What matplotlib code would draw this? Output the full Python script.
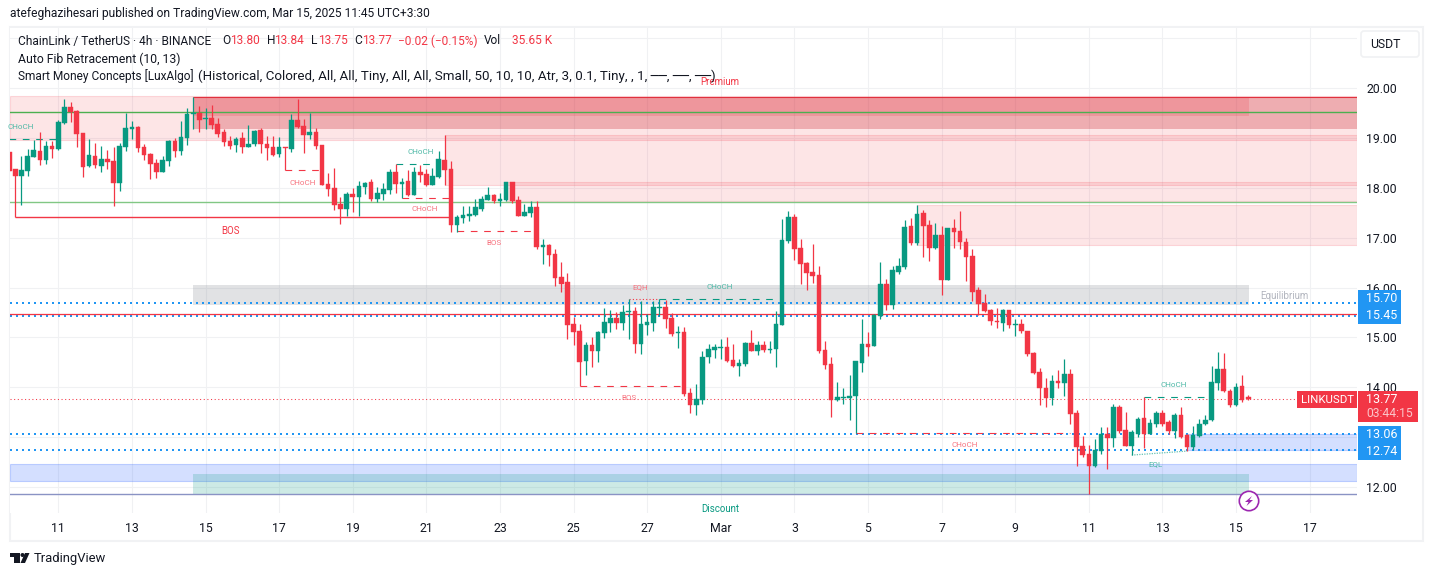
import numpy as np
import matplotlib
matplotlib.use("Agg")
import matplotlib.pyplot as plt
from matplotlib.patches import Rectangle, Circle, Polygon, FancyBboxPatch
from matplotlib.transforms import Affine2D
from matplotlib.colors import to_rgba

plt.rcParams["font.family"] = ["Roboto", "DejaVu Sans"]

# 4h candles, bar 0 is Feb 11 00:00
first_bar = -8
opens = [18.73,18.38,18.24,18.34,18.62,18.74,18.56,18.84,
    18.78,19.30,19.62,19.55,19.10,18.44,18.64,18.44,18.58,18.54,
    18.10,18.82,19.18,19.22,18.82,18.68,18.50,18.32,18.54,18.94,
    18.74,19.00,19.48,19.50,19.38,19.40,19.28,19.12,18.94,18.86,
    19.00,18.82,18.88,19.16,18.88,18.82,18.68,18.82,18.78,19.36,
    19.24,19.06,19.12,18.86,18.08,18.00,17.68,17.58,17.88,17.82,
    18.02,18.12,17.78,17.88,17.96,18.32,18.08,18.14,17.86,18.32,
    18.28,18.06,18.22,18.56,18.38,17.26,17.40,17.44,17.46,17.58,
    17.76,17.86,17.74,17.76,18.12,17.76,17.44,17.50,17.62,16.81,
    16.85,16.67,16.21,16.11,15.27,15.13,14.53,14.85,14.73,15.09,
    15.29,15.39,15.29,15.51,15.53,14.87,15.25,15.29,15.60,15.61,
    15.39,15.09,15.11,13.89,13.65,13.75,14.61,14.75,14.79,14.81,
    14.55,14.43,14.47,14.89,14.73,14.85,14.75,14.77,15.25,16.93,
    17.42,16.79,16.49,16.31,16.25,14.75,14.47,13.75,13.79,13.78,
    13.82,14.49,14.87,14.83,15.43,16.07,15.65,16.31,16.41,17.24,
    16.89,17.50,17.26,16.79,17.06,16.15,17.20,17.14,16.91,16.63,
    15.95,15.69,15.55,15.33,15.29,15.55,15.25,15.27,15.13,14.69,
    14.31,13.99,13.78,14.13,14.09,14.27,13.48,12.82,12.66,12.42,
    12.72,13.06,12.98,13.60,13.14,12.82,13.06,13.38,13.06,13.26,
    13.48,13.30,13.12,13.44,13.04,12.80,13.02,13.26,13.34,14.09,
    14.37,13.93,13.65,14.03,13.80]
highs = [18.73,18.38,18.64,18.79,18.97,19.13,18.94,18.94,
    19.36,19.78,19.72,19.56,19.10,18.98,18.90,18.84,18.76,18.82,
    18.90,19.50,19.34,19.24,18.88,18.70,18.58,18.64,18.96,19.00,
    19.34,19.60,19.82,19.64,19.60,19.66,19.40,19.18,19.04,19.02,
    19.12,19.26,19.16,19.20,19.04,19.04,19.02,18.82,19.48,19.78,
    19.38,19.50,19.20,18.86,18.30,18.40,17.82,17.92,18.00,18.14,
    18.12,18.18,18.02,18.10,18.38,18.48,18.20,18.36,18.42,18.46,
    18.38,18.40,18.74,19.06,18.54,17.46,17.64,17.64,17.78,17.84,
    18.02,17.88,17.90,18.12,18.12,17.84,17.68,17.74,17.74,16.98,
    16.87,16.77,16.51,16.29,15.41,15.27,14.91,15.01,15.13,15.59,
    15.55,15.51,15.65,15.77,15.61,15.73,15.47,15.73,15.77,15.75,
    15.49,15.23,15.21,13.99,14.07,14.73,14.87,14.87,14.97,15.01,
    14.87,14.57,14.91,15.15,14.93,14.93,14.93,15.53,17.38,17.54,
    17.48,16.97,16.51,16.87,16.43,14.93,14.61,14.11,13.99,14.25,
    14.53,15.37,15.11,15.47,16.51,16.17,16.43,16.59,17.36,17.40,
    17.66,17.56,17.36,17.30,17.24,17.20,17.38,17.54,16.99,16.77,
    16.01,15.87,15.57,15.59,15.57,15.55,15.37,15.37,15.13,14.71,
    14.39,14.19,14.25,14.35,14.57,14.37,13.54,13.02,12.84,12.96,
    13.20,13.20,13.67,13.65,13.50,13.14,13.40,13.80,13.36,13.52,
    13.54,13.34,13.48,13.60,13.06,13.22,13.36,13.44,14.43,14.71,
    14.69,13.97,14.09,14.25,13.84]
lows = [18.34,17.42,17.66,18.24,18.62,18.46,18.48,18.59,
    18.77,19.28,19.32,18.82,18.22,18.42,18.40,18.32,18.38,17.64,
    17.94,18.74,18.98,18.72,18.56,18.18,18.20,18.32,18.44,18.62,
    18.66,18.86,19.18,19.12,19.18,19.18,19.02,18.84,18.78,18.72,
    18.70,18.82,18.84,18.70,18.56,18.64,18.62,18.36,18.72,19.20,
    18.70,18.98,18.78,18.06,17.84,17.56,17.28,17.44,17.52,17.44,
    17.88,17.74,17.72,17.76,17.88,17.90,17.79,17.84,17.86,18.12,
    18.04,18.06,18.20,18.06,17.12,17.12,17.30,17.34,17.44,17.54,
    17.76,17.70,17.64,17.74,17.70,17.44,17.44,17.42,16.77,16.47,
    16.43,16.03,15.91,14.97,14.85,14.02,14.25,14.41,14.51,14.99,
    15.11,15.17,15.15,14.97,14.69,14.67,15.05,15.13,15.43,15.19,
    15.03,14.79,13.83,13.48,13.44,13.66,14.49,14.59,14.57,14.51,
    14.41,14.23,14.43,14.73,14.65,14.71,14.69,14.41,15.25,16.89,
    16.55,16.07,15.95,16.09,14.69,14.37,13.40,13.73,13.66,13.34,
    13.08,14.31,14.63,14.83,15.37,15.55,15.57,16.27,16.37,16.85,
    16.85,16.61,16.53,16.77,15.85,16.15,16.79,16.77,16.13,15.73,
    15.45,15.51,15.25,15.19,15.13,15.19,15.03,15.09,14.63,14.27,
    13.65,13.61,13.65,13.99,13.83,13.26,12.42,12.60,11.86,12.40,
    12.66,12.36,12.80,13.08,12.82,12.64,13.00,12.78,13.06,13.20,
    13.22,13.06,12.98,12.98,12.72,12.74,13.00,13.24,13.32,13.95,
    13.91,13.60,13.63,13.71,13.75]
closes = [18.34,18.24,18.36,18.64,18.76,18.56,18.84,18.78,
    19.32,19.62,19.52,19.08,18.42,18.66,18.46,18.58,18.52,18.10,
    18.84,19.20,19.22,18.80,18.66,18.48,18.32,18.56,18.94,18.74,
    19.02,19.48,19.50,19.36,19.40,19.26,19.08,18.92,18.84,18.98,
    18.82,18.88,19.14,18.88,18.80,18.66,18.82,18.80,19.36,19.22,
    19.06,19.12,18.84,18.06,17.98,17.66,17.58,17.88,17.82,18.04,
    18.10,17.78,17.90,17.98,18.32,18.08,18.12,17.86,18.32,18.26,
    18.06,18.24,18.58,18.36,17.26,17.42,17.46,17.48,17.62,17.78,
    17.86,17.74,17.78,18.12,17.74,17.44,17.52,17.62,16.81,16.85,
    16.65,16.19,16.07,15.25,15.11,14.51,14.85,14.73,15.11,15.31,
    15.39,15.29,15.51,15.53,14.87,15.27,15.31,15.61,15.61,15.37,
    15.07,15.11,13.87,13.65,13.76,14.61,14.77,14.81,14.81,14.53,
    14.43,14.49,14.89,14.73,14.85,14.75,14.77,15.27,16.95,17.42,
    16.77,16.47,16.29,16.23,14.73,14.45,13.75,13.81,13.81,13.82,
    14.53,14.87,14.81,15.45,16.07,15.65,16.35,16.43,17.22,16.89,
    17.48,17.24,16.79,17.06,16.15,17.20,17.12,16.91,16.61,15.91,
    15.67,15.53,15.33,15.31,15.55,15.25,15.27,15.13,14.67,14.29,
    13.99,13.78,14.13,14.09,14.27,13.46,12.80,12.64,12.42,12.74,
    13.06,12.98,13.60,13.12,12.82,13.10,13.36,13.06,13.28,13.48,
    13.26,13.12,13.44,13.00,12.80,13.04,13.26,13.34,14.11,14.37,
    13.93,13.65,14.01,13.75,13.77]

price_ticks = [12, 13, 14, 15, 16, 17, 18, 19, 20, 21]
price_labels = ["12.00", "", "14.00", "15.00", "16.00", "17.00", "18.00", "19.00", "20.00", ""]
date_ticks = [0, 12, 24, 36, 48, 60, 72, 84, 96, 108, 120, 132, 144, 156, 168, 180, 192, 204]
date_labels = ["11", "13", "15", "17", "19", "21", "23", "25", "27", "Mar", "3", "5", "7", "9", "11", "13", "15", "17"]

# levels
alert_levels = [15.70, 15.435, 13.06, 12.74]
red_level = 15.465
last_price = 13.76
green_level = 19.52
green_level2 = 17.71
base_level = 11.85

# zones: start bar, end bar (None = right edge), low, high
pink_zones = [(None, None, 18.96, 19.84), (63, None, 18.05, 19.06), (73, None, 17.74, 18.12), (140, None, 16.86, 17.66)]
blue_zones = [(None, None, 12.13, 12.46), (184, None, 12.74, 13.06)]
premium_outer = (22, None, 19.18, 19.82)
premium_inner = (22, 194.1, 19.44, 19.82)
equilibrium = (22, 194.1, 15.66, 16.05)
discount = (22, 194.1, 11.85, 12.26)

# structure lines: start bar, end bar, price
red_dashed = [(37, 43, 18.36), (56, 64, 17.79), (65, 78, 17.13), (85, 102, 14.02), (130, 165, 13.08)]
teal_dashed = [(-8, 0, 18.99), (55, 62, 18.48), (98, 116.6, 15.77), (177, 187, 13.80)]
bos_solid = (-7, 64, 17.42)
eqh = (93, 98, 15.77)
eql_bars = [175, 184]
eql_prices = [12.64, 12.72]

# small labels: bar, price, text
red_labels = [(39.9, 18.10, "CHoCH"), (59.8, 17.58, "CHoCH"), (71, 16.89, "BOS"), (93, 13.79, "BOS"), (94.8, 16.01, "EQH"), (147.8, 12.84, "CHoCH")]
teal_labels = [(-6.1, 19.22, "CHoCH"), (59.1, 18.72, "CHoCH"), (107.9, 16.01, "CHoCH"), (181.9, 14.05, "CHoCH"), (178.9, 12.46, "EQL")]

UP = "#089981"
DOWN = "#f23645"
BLUE = "#2196f3"
TEXT = "#131722"
GRID = "#f0f1f3"

W, H = 1433, 576
fig = plt.figure(figsize=(W / 100, H / 100), dpi=100, facecolor="white")
px = Affine2D().scale(1, -1).translate(0, H)  # top-left pixel coords

# plot area 10..1357 x 28..513
ax = fig.add_axes([10 / W, 1 - 513 / H, 1347 / W, 485 / H])
ax.set_xlim(-7.874, 211.72)
ax.set_ylim(11.478, 21.208)
right_edge = ax.get_xlim()[1]
left_edge = ax.get_xlim()[0]
for s in ax.spines.values():
    s.set_visible(False)
ax.yaxis.tick_right()
ax.set_yticks(price_ticks, price_labels, fontsize=8.8, color=TEXT)
ax.set_xticks(date_ticks, date_labels, fontsize=8.8, color=TEXT)
ax.tick_params(axis="both", length=0)
ax.tick_params(axis="y", pad=6.5)
ax.tick_params(axis="x", pad=6.5)
ax.grid(True, color=GRID, lw=0.8)
ax.set_axisbelow(True)


def zone(z, color, alpha, edge=None, zorder=1):
    x0 = left_edge if z[0] is None else z[0]
    x1 = right_edge if z[1] is None else z[1]
    ec = "none" if edge is None else to_rgba(color, edge)
    ax.add_patch(Rectangle((x0, z[2]), x1 - x0, z[3] - z[2], facecolor=to_rgba(color, alpha),
                           edgecolor=ec, lw=0.8, zorder=zorder))


for z in pink_zones:
    zone(z, DOWN, 0.13, edge=0.16)
for z in blue_zones:
    zone(z, "#2962ff", 0.2, edge=0.25)
zone(premium_outer, "#c81e28", 0.28)
zone(premium_inner, DOWN, 0.19)
zone(equilibrium, "#787b86", 0.22)
zone(discount, UP, 0.2)

ax.hlines(premium_outer[3], premium_outer[0], right_edge, color="#e0313e", lw=0.8, zorder=2)
ax.axhline(green_level, color="#4caf50", lw=1.0, zorder=2)
ax.axhline(green_level2, color="#81c784", lw=1.0, zorder=2)
ax.axhline(base_level, color="#8a93c4", lw=1.0, zorder=2)
for lvl in alert_levels:
    ax.axhline(lvl, color=BLUE, lw=1.44, ls=(0, (1, 2)), zorder=2)
ax.axhline(red_level, color=DOWN, lw=0.9, zorder=2.1)
ax.hlines(last_price, left_edge, 202, color=DOWN, lw=0.75, ls=(0, (1, 2.5)), zorder=2)

ax.hlines(bos_solid[2], bos_solid[0], bos_solid[1], color=DOWN, lw=1.0, zorder=2.5)
for a, b, p in red_dashed:
    ax.hlines(p, a, b, color=DOWN, lw=0.8, ls=(0, (6, 6)), zorder=2.5)
for a, b, p in teal_dashed:
    ax.hlines(p, a, b, color=UP, lw=0.8, ls=(0, (6, 6)), zorder=2.5)
ax.hlines(eqh[2], eqh[0], eqh[1], color=DOWN, lw=0.8, ls=(0, (1, 2)), zorder=2.5)
ax.plot(eql_bars, eql_prices, color="#66c2b3", lw=0.9, ls=(0, (1, 1)), zorder=2.5)

# candles
bars = np.arange(first_bar, first_bar + len(opens))
o, h, l, c = map(np.array, (opens, highs, lows, closes))
cols = np.where(c >= o, UP, DOWN)
ax.vlines(bars, l, h, colors=cols, lw=0.9, zorder=3)
ax.bar(bars, np.abs(c - o), bottom=np.minimum(o, c), width=0.75, color=cols, edgecolor=cols, lw=0.3, zorder=3.2)

for x, y, t in red_labels:
    ax.text(x, y, t, color="#f7737f", fontsize=5.8, ha="center", va="center", zorder=4)
for x, y, t in teal_labels:
    ax.text(x, y, t, color="#4db8a6", fontsize=5.8, ha="center", va="center", zorder=4)
ax.text(28, 17.14, "BOS", color=DOWN, fontsize=7, ha="center", va="center", zorder=4)
ax.text(107.9, 20.12, "Premium", color=DOWN, fontsize=7, ha="center", va="center", zorder=4)
ax.text(199.8, 15.83, "Equilibrium", color="#b2b5be", fontsize=7, ha="center", va="center", zorder=4)
ax.text(107.9, 11.56, "Discount", color=UP, fontsize=7, ha="center", va="center", zorder=4)


def label(x, y, s, color=TEXT, size=8.8, ha="left", **kw):
    fig.text(x, y, s, color=color, fontsize=size, ha=ha, va="center", transform=px, **kw)


def box(x0, y0, x1, y1, color):
    fig.add_artist(Rectangle((x0, y0), x1 - x0, y1 - y0, facecolor=color, edgecolor="none", transform=px))


# frame and header
fig.add_artist(Rectangle((9.5, 27), 1413.5, 514, facecolor="none", edgecolor="#f1f2f4", lw=1.5, transform=px, zorder=0))
label(10, 14, "atefeghazihesari published on TradingView.com, Mar 15, 2025 11:45 UTC+3:30", size=8.65)
label(18, 41, "ChainLink / TetherUS · 4h · BINANCE", size=8.55)
for x, s, col in [(222, "O", TEXT), (230, "13.80", DOWN), (267, "H", TEXT), (274, "13.84", DOWN), (311, "L", TEXT),
                  (318, "13.75", DOWN), (354, "C", TEXT), (362, "13.77", DOWN), (398, "−0.02 (−0.15%)", DOWN),
                  (484, "Vol", TEXT), (512, "35.65 K", DOWN)]:
    label(x, 41, s, col, size=8.6)
label(18, 59, "Auto Fib Retracement (10, 13)", size=8.85)
label(18, 76, "Smart Money Concepts [LuxAlgo]", size=8.6)
label(198, 76, "(Historical, Colored, All, All, Tiny, All, All, Small, 50, 10, 10, Atr, 3, 0.1, Tiny, , 1, ──, ──, ──)", size=9.65)

# USDT button
fig.add_artist(FancyBboxPatch((1361, 31), 58, 26, boxstyle="round,pad=0,rounding_size=3", facecolor="white",
                              edgecolor="#f0f1f3", lw=1.2, transform=px))
label(1370, 44.5, "USDT", size=8.8)

# price axis tags
box(1358, 290, 1401, 323.7, BLUE)
box(1358, 426, 1401, 460, BLUE)
box(1358, 391, 1418, 422, DOWN)
box(1297, 391, 1357, 408, DOWN)
label(1366, 298.5, "15.70", "white", size=9)
label(1366, 315.5, "15.45", "white", size=9)
label(1366, 434.5, "13.06", "white", size=9)
label(1366, 451.5, "12.74", "white", size=9)
label(1366, 399.5, "13.77", "white", size=9)
label(1366, 413.5, "03:44:15", "#fbc5ca", size=8.7)
label(1301, 400, "LINKUSDT", "white", size=8.2)

# lightning badge
fig.add_artist(Circle((1249, 501), 9.7, facecolor="white", edgecolor="#9c27b0", lw=1.2, transform=px))
fig.add_artist(Polygon([(1252, 496), (1245, 502), (1248.5, 502), (1246.5, 506), (1253, 500), (1249.5, 500)],
                       closed=True, facecolor="#9c27b0", edgecolor="none", transform=px))

# TradingView logo
fig.add_artist(Polygon([(10, 553), (20, 553), (20, 563), (14, 563), (14, 557), (10, 557)], closed=True,
                       facecolor=TEXT, edgecolor="none", transform=px))
fig.add_artist(Circle((22.5, 555), 2, facecolor=TEXT, edgecolor="none", transform=px))
fig.add_artist(Polygon([(25, 553), (29.5, 553), (25, 563), (20.5, 563)], closed=True, facecolor=TEXT,
                       edgecolor="none", transform=px))
label(33.5, 558.5, "TradingView", size=9.4)

fig.savefig("out.png", dpi=100)
